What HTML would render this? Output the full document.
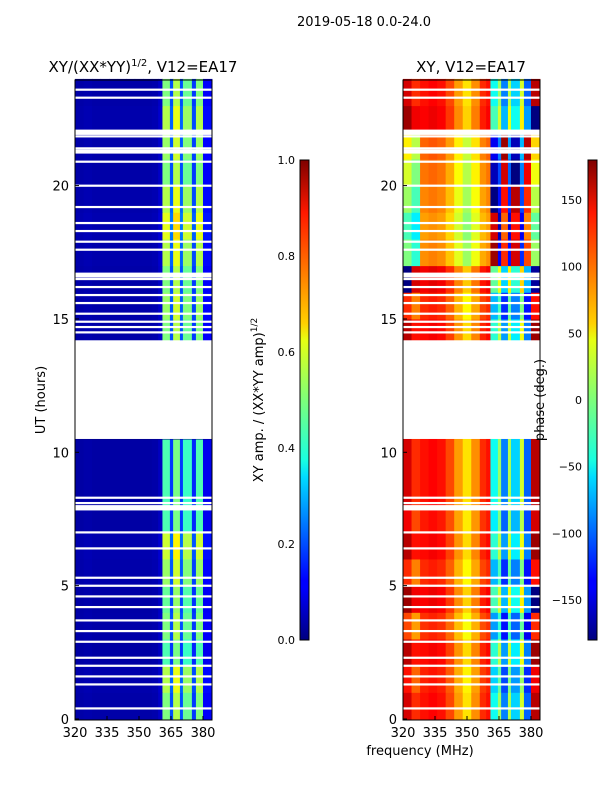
<!DOCTYPE html>
<html><head><meta charset="utf-8"><style>
html,body{margin:0;padding:0;background:#fff;}
svg{display:block;font-family:"DejaVu Sans","Liberation Sans",sans-serif;}
</style></head><body>
<svg id="fig" width="600" height="800" xmlns="http://www.w3.org/2000/svg">
<defs>
<linearGradient id="jetV" x1="0" y1="1" x2="0" y2="0">
<stop offset="0" stop-color="#00007f"/><stop offset="0.11" stop-color="#0000ff"/><stop offset="0.125" stop-color="#0000ff"/>
<stop offset="0.34" stop-color="#00dcff"/><stop offset="0.375" stop-color="#19ffe0"/><stop offset="0.5" stop-color="#7dff7a"/>
<stop offset="0.625" stop-color="#e6ff12"/><stop offset="0.66" stop-color="#ffd000"/><stop offset="0.89" stop-color="#ff1800"/><stop offset="1" stop-color="#7f0000"/>
</linearGradient>
</defs>
<text x="364" y="26" font-size="13" text-anchor="middle">2019-05-18 0.0-24.0</text>
<text x="143" y="72" font-size="15" text-anchor="middle">XY/(XX*YY)<tspan font-size="10" dy="-6">1/2</tspan><tspan dy="6">, V12=EA17</tspan></text>
<text x="471" y="72" font-size="15" text-anchor="middle">XY, V12=EA17</text>
<g id="ampPanel"></g>
<g id="phPanel"></g>
<g id="axes"></g>
<text transform="translate(45,400) rotate(-90)" font-size="13" text-anchor="middle">UT (hours)</text>
<text x="420" y="755" font-size="13" text-anchor="middle">frequency (MHz)</text>
<rect x="300" y="160" width="9" height="480" fill="url(#jetV)" stroke="#000" stroke-width="1"/>
<rect x="588" y="160" width="9" height="480" fill="url(#jetV)" stroke="#000" stroke-width="1"/>
<text transform="translate(263,400) rotate(-90)" font-size="13" text-anchor="middle">XY amp. / (XX*YY amp)<tspan font-size="9" dy="-6">1/2</tspan></text>
<text transform="translate(544,400) rotate(-90)" font-size="13" text-anchor="middle">phase (deg.)</text>
</svg>
<script>
// ---- data ----
const freqEdges = [320,324,328,332,336,340,344,348,352,356,359,361,364.5,366,369.2,370.6,374.8,376.7,380,384.2];
const ampProfile = [0.04,0.045,0.04,0.04,0.04,0.04,0.04,0.04,0.04,0.045,0.07,0.5,0.2,0.55,0.2,0.48,0.18,0.5,0.12];
const phaseProfile = [150,120,130,135,130,110,80,55,85,120,130,-40,10,-90,20,-60,30,-100,160];
const timeEdges = [0,1,2,3,4,5,6,7,8,10.5,14.2,15,16,17,18,19,20,21,22,23,24];
const ampFactor = [1.0,1.1,0.9,1.0,0.95,1.05,1.15,0.9,0.9,0,1.0,1.05,1.0,1.1,1.2,1.1,1.0,1.05,1.1,1.0];
const phaseShift = [0,-20,10,-40,20,-30,10,-10,0,0,10,-30,30,-150,-170,-140,-120,-100,20,0];
const gapHours = [23.6,23.3,22.0,21.85,21.4,20.9,20.0,19.2,18.6,18.3,17.9,17.6,16.7,16.5,16.2,15.9,15.6,15.2,14.9,14.7,14.5,8.3,8.1,7.9,7.0,6.4,5.3,5.0,4.6,4.2,3.7,3.3,2.9,2.3,2.0,1.6,1.3,0.4];
const gapWide = [[10.5,14.2],[7.82,8.02],[21.9,22.1],[21.2,21.35],[16.55,16.7]];
const uTicks = [0,5,10,15,20];
const fTicks = [320,335,350,365,380];
const ampCbTicks = [0.0,0.2,0.4,0.6,0.8,1.0];
const phCbTicks = [-150,-100,-50,0,50,100,150];

const NS="http://www.w3.org/2000/svg";
function jet(v){v=Math.max(0,Math.min(1,v));
 const r=Math.max(0,Math.min(1,1.5-Math.abs(4*v-3))),g=Math.max(0,Math.min(1,1.5-Math.abs(4*v-2))),b=Math.max(0,Math.min(1,1.5-Math.abs(4*v-1)));
 return `rgb(${Math.round(r*255)},${Math.round(g*255)},${Math.round(b*255)})`;}
const yOf=h=>719-h*26.67;
const xL=f=>75+(f-320)*2.133, xR=f=>403+(f-320)*2.133;
function mk(tag,attrs,parent){const e=document.createElementNS(NS,tag);for(const k in attrs)e.setAttribute(k,attrs[k]);parent.appendChild(e);return e;}
const amp=document.getElementById('ampPanel'), ph=document.getElementById('phPanel'), ax=document.getElementById('axes');
for(let t=0;t<timeEdges.length-1;t++){
 const y0=yOf(timeEdges[t+1]), y1=yOf(timeEdges[t]);
 for(let f=0;f<freqEdges.length-1;f++){
  const a=ampProfile[f]*ampFactor[t];
  const c=mk('rect',{x:xL(freqEdges[f]),y:y0,width:xL(freqEdges[f+1])-xL(freqEdges[f])+0.5,height:y1-y0+0.5,fill:jet(a)},amp);
  
  
  let p=phaseProfile[f]+(f>=11||f<2?phaseShift[t]:phaseShift[t]*0.3);
  p=((p+180)%360+360)%360-180;
  const d=mk('rect',{x:xR(freqEdges[f]),y:y0,width:xR(freqEdges[f+1])-xR(freqEdges[f])+0.5,height:y1-y0+0.5,fill:jet((p+180)/360)},ph);
  
  
 }
}
for(const [x0] of [[75],[403]]){
 for(const g of gapHours){const r=mk('rect',{x:x0,y:yOf(g)-1,width:137,height:2.2,fill:'#fff'},ax);
  
  }
 for(const [a,b] of gapWide){const r=mk('rect',{x:x0,y:yOf(b),width:137,height:yOf(a)-yOf(b),fill:'#fff'},ax);
  
  }
 const fr=mk('rect',{x:x0,y:80,width:137,height:640,fill:'none',stroke:'#000','stroke-width':1},ax);
 
 
 for(const u of uTicks){const y=yOf(u);
  mk('line',{x1:x0,x2:x0+4,y1:y,y2:y,stroke:'#000'},ax);
  const tx=mk('text',{x:x0-6,y:y+5,'font-size':13,'text-anchor':'end'},ax);tx.textContent=u;
  
  }
 for(const f of fTicks){const x=x0+(f-320)*2.133;
  mk('line',{x1:x,x2:x,y1:720,y2:716,stroke:'#000'},ax);
  const tx=mk('text',{x:x,y:737,'font-size':13,'text-anchor':'middle'},ax);tx.textContent=f;
  
  }
}
for(const v of ampCbTicks){const y=640-v*480;
 mk('line',{x1:300,x2:309,y1:y,y2:y,stroke:'#000'},ax);
 const tx=mk('text',{x:295,y:y+4,'font-size':11,'text-anchor':'end'},ax);tx.textContent=v.toFixed(1);
 
 }
for(const v of phCbTicks){const y=400-v*480/360;
 mk('line',{x1:588,x2:597,y1:y,y2:y,stroke:'#000'},ax);
 const tx=mk('text',{x:582,y:y+4,'font-size':11,'text-anchor':'end'},ax);tx.textContent=(v<0?'\u2212'+(-v):v);
 
 }
</script>
</body></html>
